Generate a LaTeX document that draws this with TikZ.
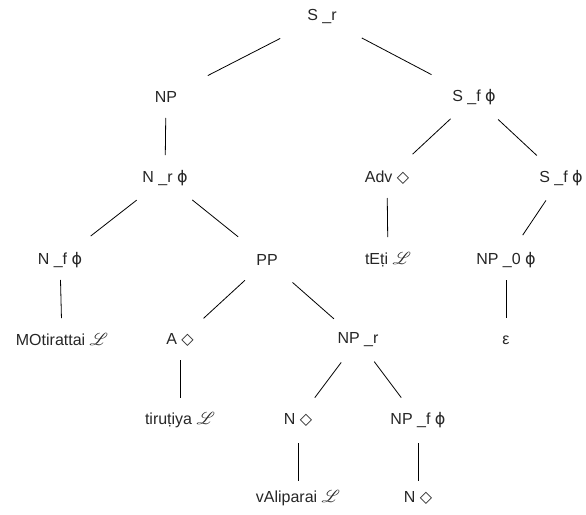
\documentclass[tikz,border=0pt]{standalone}
\usepackage{fontspec}
\usepackage{mathrsfs}
\setmainfont{Liberation Sans}
\newfontfamily\symfont{DejaVu Sans}
\newcommand{\phis}{{\symfont ϕ}}
\newcommand{\dia}{{\symfont ◇}}
\newcommand{\scl}{$\mathscr{L}$}
\begin{document}
\begin{tikzpicture}[x=1pt,y=-1pt,
  lab/.style={inner sep=0pt, font=\fontsize{16}{19}\selectfont, text=black!85},
  edge/.style 2 args={draw=black, line width=0.8pt, shorten <=#1pt, shorten >=#2pt}]
\useasboundingbox (0,0) rectangle (586,514);
\node[lab] (sr)   at (322,17)  {S \_r};
\node[lab] (np)   at (166,97)  {NP};
\node[lab] (sf1)  at (474,97)  {S \_f \phis};
\node[lab] (nr)   at (165,178) {N \_r \phis};
\node[lab] (adv)  at (387,178) {Adv \dia};
\node[lab] (sf2)  at (561,178) {S \_f \phis};
\node[lab] (nf)   at (60,260)  {N \_f \phis};
\node[lab] (pp)   at (267,260) {PP};
\node[lab] (teti) at (388,260) {tEṭi \scl};
\node[lab] (np0)  at (506,260) {NP \_0 \phis};
\node[lab] (mot)  at (62,340)  {MOtirattai \scl};
\node[lab] (a)    at (180,340) {A \dia};
\node[lab] (npr)  at (358,340) {NP \_r};
\node[lab] (eps)  at (506,340) {ε};
\node[lab] (tir)  at (180,420) {tiruṭiya \scl};
\node[lab] (n1)   at (298,420) {N \dia};
\node[lab] (npf)  at (418,420) {NP \_f \phis};
\node[lab] (val)  at (298,498) {vAliparai \scl};
\node[lab] (n2)   at (418,498) {N \dia};

\draw[edge={47}{47}] (sr.center) -- (np.center);
\draw[edge={45}{48}] (sr.center) -- (sf1.center);
\draw[edge={21}{23}] (np.center) -- (nr.center);
\draw[edge={36}{39}] (nr.center) -- (nf.center);
\draw[edge={35}{37}] (nr.center) -- (pp.center);
\draw[edge={32}{35}] (sf1.center) -- (adv.center);
\draw[edge={33}{33}] (sf1.center) -- (sf2.center);
\draw[edge={20}{23}] (adv.center) -- (teti.center);
\draw[edge={27}{30}] (sf2.center) -- (np0.center);
\draw[edge={20}{22}] (nf.center) -- (mot.center);
\draw[edge={30}{32}] (pp.center) -- (a.center);
\draw[edge={34}{32}] (pp.center) -- (npr.center);
\draw[edge={20}{22}] (a.center) -- (tir.center);
\draw[edge={20}{22}] (np0.center) -- (eps.center);
\draw[edge={28}{28}] (npr.center) -- (n1.center);
\draw[edge={27}{28}] (npr.center) -- (npf.center);
\draw[edge={23}{17}] (n1.center) -- (val.center);
\draw[edge={23}{17}] (npf.center) -- (n2.center);
\end{tikzpicture}
\end{document}
